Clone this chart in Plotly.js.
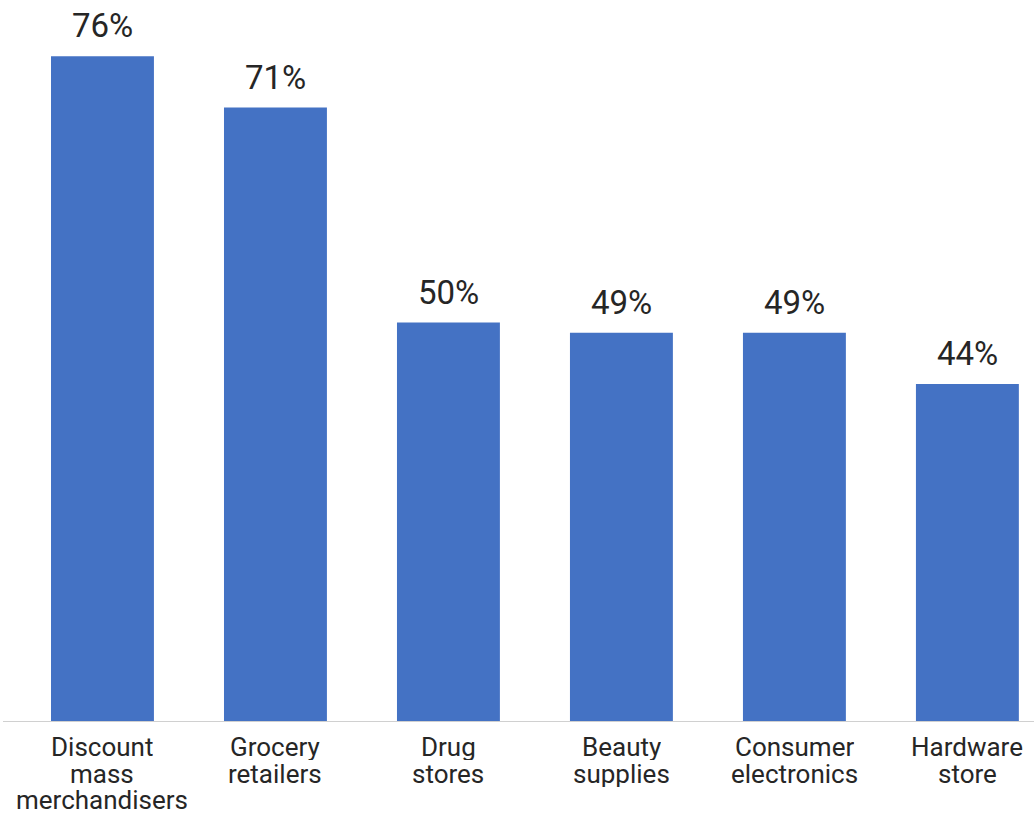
<!DOCTYPE html>
<html>
<head>
<meta charset="utf-8">
<script src="https://cdn.plot.ly/plotly-3.0.1.min.js"></script>
<style>html,body{margin:0;padding:0;background:#fff;}#chart{width:1034px;height:814px;}</style>
</head>
<body>
<div id="chart"></div>
<script>
var categories = ["Discount<br>mass<br>merchandisers", "Grocery<br>retailers", "Drug<br>stores", "Beauty<br>supplies", "Consumer<br>electronics", "Hardware<br>store"];
var values = [76, 71, 50, 49, 49, 44];
var valueLabels = ["76%", "71%", "50%", "49%", "49%", "44%"];

var trace = {
  type: 'bar',
  x: categories,
  y: values,
  marker: {color: '#4472C4'},
  hoverinfo: 'none'
};

var txtFont = 'Roboto, sans-serif';
var annotations = categories.map(function(c, i) {
  return {
    x: c, y: values[i], xref: 'x', yref: 'y',
    text: valueLabels[i], showarrow: false,
    yanchor: 'bottom', yshift: 9,
    font: {family: txtFont, size: 33, color: '#262626'}
  };
});
// category labels, one annotation per line for the reference's tight line spacing
categories.forEach(function(c) {
  c.split('<br>').forEach(function(line, j) {
    annotations.push({
      x: c, y: 0, xref: 'x', yref: 'paper',
      text: line, showarrow: false, height: 26,
      yanchor: 'middle', yshift: -(26 + 26.5 * j),
      font: {family: txtFont, size: 26, color: '#262626'}
    });
  });
});

var layout = {
  width: 1034, height: 814,
  margin: {l: 3, r: 0, t: 0, b: 93},
  paper_bgcolor: '#fff', plot_bgcolor: '#fff',
  bargap: 0.405,
  showlegend: false,
  xaxis: {
    type: 'category',
    range: [-0.575, 5.385],
    showline: true, linecolor: '#d0d0d0', linewidth: 1,
    ticks: '', showgrid: false, zeroline: false, showticklabels: false
  },
  yaxis: {
    range: [11.1, 81.5],
    visible: false, showgrid: false, zeroline: false
  },
  annotations: annotations
};

Plotly.newPlot('chart', [trace], layout, {staticPlot: true});
</script>
</body>
</html>
